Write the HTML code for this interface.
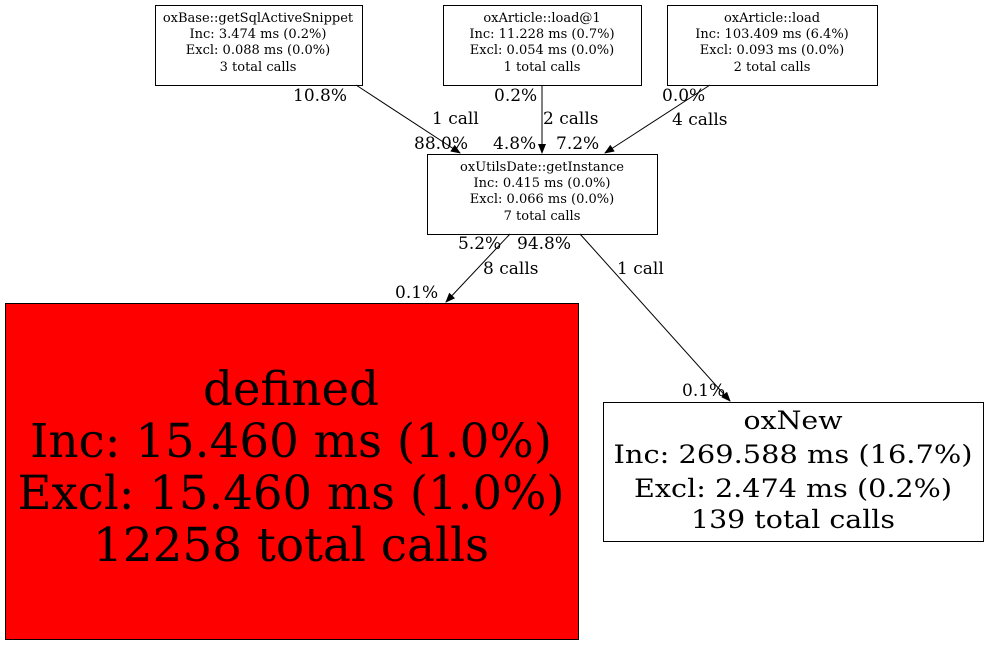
<!DOCTYPE html>
<html><head><meta charset="utf-8"><style>html,body{margin:0;padding:0;background:#fff}svg{display:block}</style></head>
<body>
<svg width="988" height="645" viewBox="0 0 988 645" xmlns="http://www.w3.org/2000/svg" font-family="DejaVu Serif, serif">
<defs><marker id="a" markerWidth="10" markerHeight="8" refX="9" refY="4" orient="auto" markerUnits="userSpaceOnUse"><path d="M0,0 L10,4 L0,8 z" fill="#000"/></marker></defs>
<g fill="#fff" stroke="#000" stroke-width="1">
<rect x="155.5" y="5.5" width="207" height="80"/>
<rect x="443.5" y="5.5" width="198" height="80"/>
<rect x="667.5" y="5.5" width="210" height="80"/>
<rect x="427.5" y="154.5" width="230" height="80"/>
<rect x="5.5" y="303.5" width="573" height="336" fill="#f00"/>
<rect x="603.5" y="402.5" width="380" height="139"/>
</g>
<g stroke="#000" stroke-width="1" fill="none" marker-end="url(#a)">
<line x1="356" y1="85" x2="460" y2="153"/>
<line x1="542" y1="85" x2="542" y2="153"/>
<line x1="710" y1="85" x2="605" y2="153"/>
<line x1="510" y1="234" x2="446" y2="302"/>
<line x1="580" y1="234" x2="730" y2="401"/>
</g>
<g font-size="13" text-anchor="middle">
<text x="258" y="22">oxBase::getSqlActiveSnippet</text><text x="258" y="38">Inc: 3.474 ms (0.2%)</text><text x="258" y="54">Excl: 0.088 ms (0.0%)</text><text x="258" y="71">3 total calls</text>
<text x="542" y="22">oxArticle::load@1</text><text x="542" y="38">Inc: 11.228 ms (0.7%)</text><text x="542" y="54">Excl: 0.054 ms (0.0%)</text><text x="542" y="71">1 total calls</text>
<text x="772" y="22">oxArticle::load</text><text x="772" y="38">Inc: 103.409 ms (6.4%)</text><text x="772" y="54">Excl: 0.093 ms (0.0%)</text><text x="772" y="71">2 total calls</text>
<text x="542" y="171">oxUtilsDate::getInstance</text><text x="542" y="187">Inc: 0.415 ms (0.0%)</text><text x="542" y="203">Excl: 0.066 ms (0.0%)</text><text x="542" y="220">7 total calls</text>
</g>
<g font-size="47" text-anchor="middle">
<text x="291" y="405" textLength="176" lengthAdjust="spacingAndGlyphs">defined</text>
<text x="291" y="457" textLength="522" lengthAdjust="spacingAndGlyphs">Inc: 15.460 ms (1.0%)</text>
<text x="291" y="509" textLength="547" lengthAdjust="spacingAndGlyphs">Excl: 15.460 ms (1.0%)</text>
<text x="291" y="561" textLength="396" lengthAdjust="spacingAndGlyphs">12258 total calls</text>
</g>
<g font-size="25" text-anchor="middle">
<text x="793" y="429" textLength="99" lengthAdjust="spacingAndGlyphs">oxNew</text>
<text x="793" y="463" textLength="359" lengthAdjust="spacingAndGlyphs">Inc: 269.588 ms (16.7%)</text>
<text x="793" y="497" textLength="318" lengthAdjust="spacingAndGlyphs">Excl: 2.474 ms (0.2%)</text>
<text x="793" y="528" textLength="204" lengthAdjust="spacingAndGlyphs">139 total calls</text>
</g>
<g font-size="17">
<text x="293" y="101">10.8%</text><text x="432" y="124">1 call</text><text x="414" y="149">88.0%</text>
<text x="494" y="101">0.2%</text><text x="543" y="124">2 calls</text><text x="493" y="149">4.8%</text><text x="556" y="149">7.2%</text>
<text x="662" y="101">0.0%</text><text x="672" y="125">4 calls</text>
<text x="458" y="249">5.2%</text><text x="517" y="249">94.8%</text><text x="483" y="274">8 calls</text><text x="617" y="274">1 call</text>
<text x="395" y="298">0.1%</text><text x="682" y="396">0.1%</text>
</g>
</svg>
</body></html>
